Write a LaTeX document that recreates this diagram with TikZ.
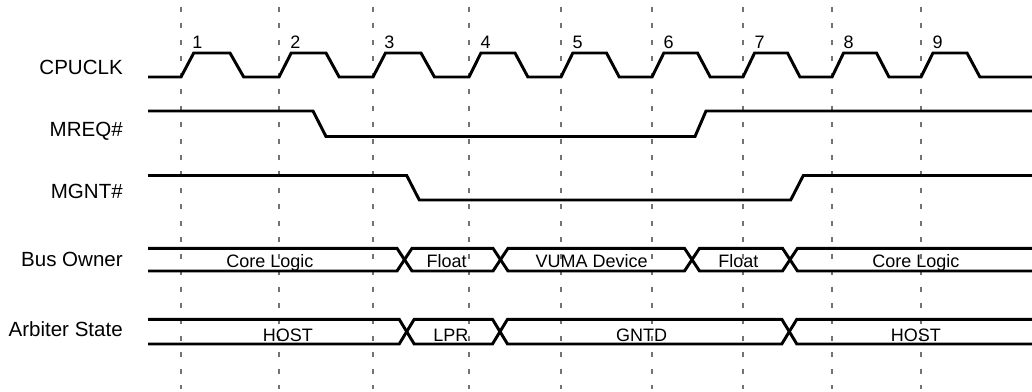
\documentclass[tikz,border=0pt]{standalone}
\usepackage{fontspec}
\setmainfont{Liberation Sans}
\usetikzlibrary{calc}
\tikzset{
  sig/.style={line width=2.1pt, line join=miter},
  gridline/.style={black!55, line width=0.8pt, dash pattern=on 3.5pt off 8.2pt},
  signame/.style={anchor=base east, inner sep=0pt, font=\fontsize{14.6}{17}\selectfont},
  buslabel/.style={anchor=base, inner sep=0pt, font=\fontsize{12.8}{15}\selectfont}
}

\begin{document}
\begin{tikzpicture}[x=2.5mm, y=-2.5mm]
  \useasboundingbox (0,0) rectangle (103.2,39.2);
  % clock edges and cycle numbers
  \foreach \e [count=\i] in {18.1,27.9,37.3,46.9,56.1,65.2,74.3,83.2,92.1} {
    \draw[gridline] (\e,0.7) -- (\e,38.9);
    \node[buslabel] (cyc\i) at (\e+1.65,4.83) {\i};
  }
  % signal names
  \node[signame] (clk) at (12.3,7.5) {CPUCLK};
  \node[signame] (mreq) at (12.3,13.67) {MREQ\#};
  \node[signame] (mgnt) at (12.3,19.83) {MGNT\#};
  \node[signame] (owner) at (12.3,26.67) {Bus Owner};
  \node[signame] (state) at (12.3,33.67) {Arbiter State};
  % CPUCLK
  \draw[sig] (14.8,7.7) foreach \a/\b in {18.1/27.9, 27.9/37.3, 37.3/46.9, 46.9/56.1, 56.1/65.2, 65.2/74.3, 74.3/83.2, 83.2/92.1, 92.1/101.3} {
    -- (\a,7.7) -- ({\a+0.13*(\b-\a)},5.3) -- ({\a+0.5*(\b-\a)},5.3) -- ({\a+0.64*(\b-\a)},7.7)
  } -- (103.2,7.7);
  % MREQ#
  \draw[sig] (14.8,11.1) -- (31.3,11.1) -- (32.6,13.65) -- (69.5,13.65) -- (70.6,11.1) -- (103.2,11.1);
  % MGNT#
  \draw[sig] (14.8,17.55) -- (40.67,17.55) -- (41.93,20.0) -- (79.07,20.0) -- (80.33,17.55) -- (103.2,17.55);
  % Bus Owner
  \draw[sig] (14.8,24.83) -- (39.7,24.83) -- (41.2,27.1) -- (49.3,27.1) -- (50.8,24.83) -- (68.45,24.83) -- (69.95,27.1) -- (78.25,27.1) -- (79.75,24.83) -- (103.2,24.83);
  \draw[sig] (14.8,27.1) -- (39.7,27.1) -- (41.2,24.83) -- (49.3,24.83) -- (50.8,27.1) -- (68.45,27.1) -- (69.95,24.83) -- (78.25,24.83) -- (79.75,27.1) -- (103.2,27.1);
  \node[buslabel] (own1) at (27.0,26.8) {Core Logic};
  \node[buslabel] (own2) at (44.67,26.8) {Float};
  \node[buslabel] (own3) at (59.17,26.8) {VUMA Device};
  \node[buslabel] (own4) at (73.83,26.8) {Float};
  \node[buslabel] (own5) at (91.58,26.8) {Core Logic};
  % Arbiter State
  \draw[sig] (14.8,31.93) -- (39.92,31.93) -- (41.42,34.4) -- (49.25,34.4) -- (50.75,31.93) -- (78.18,31.93) -- (79.68,34.4) -- (103.2,34.4);
  \draw[sig] (14.8,34.4) -- (39.92,34.4) -- (41.42,31.93) -- (49.25,31.93) -- (50.75,34.4) -- (78.18,34.4) -- (79.68,31.93) -- (103.2,31.93);
  \node[buslabel] (st1) at (28.78,34.17) {HOST};
  \node[buslabel] (st2) at (45.08,34.17) {LPR};
  \node[buslabel] (st3) at (64.17,34.17) {GNTD};
  \node[buslabel] (st4) at (91.58,34.17) {HOST};
\end{tikzpicture}
\end{document}
